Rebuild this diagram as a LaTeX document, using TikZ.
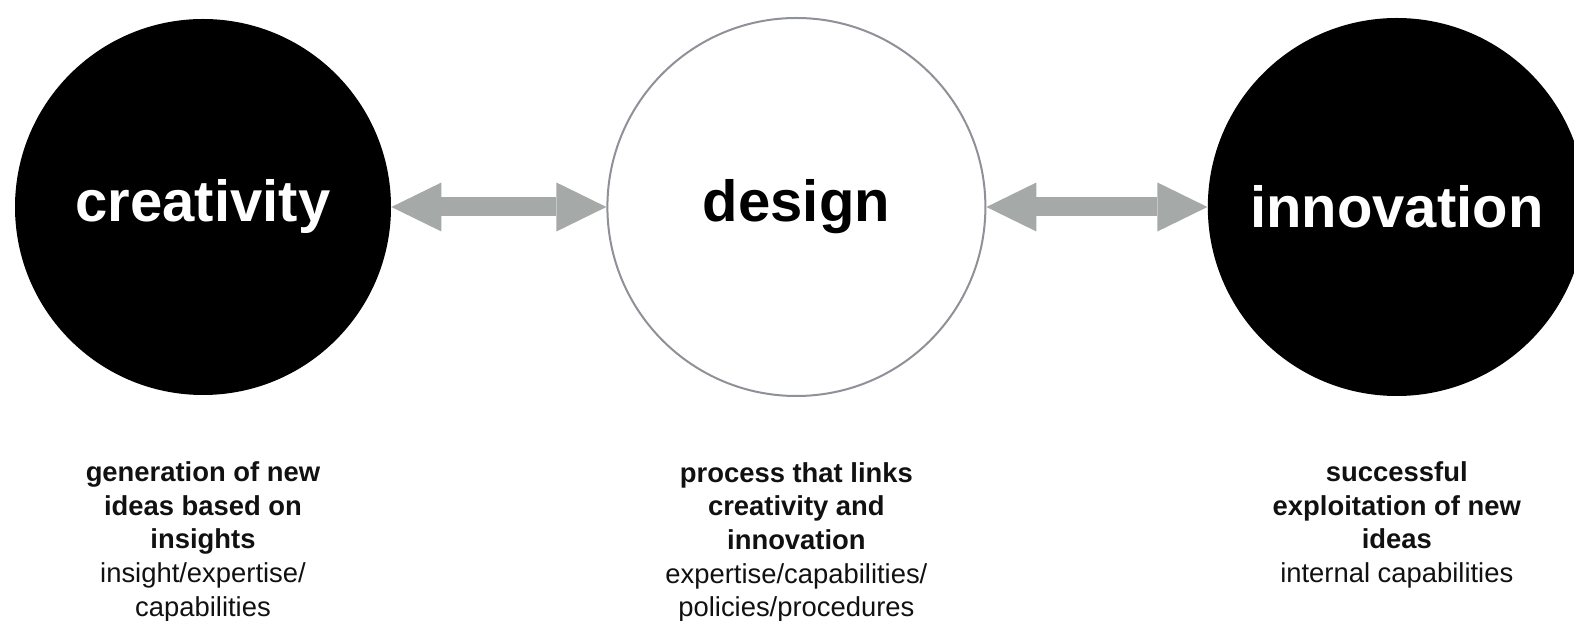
\documentclass[tikz,border=0pt]{standalone}
\usepackage{fontspec}
\setmainfont{Liberation Sans}
\usepackage{tikz}
\usetikzlibrary{positioning, arrows.meta}

\definecolor{arrowgray}{HTML}{A5A9A7}
\definecolor{ringgray}{HTML}{8E9197}
\definecolor{textblack}{HTML}{111111}

\begin{document}
\begin{tikzpicture}[
        bigcirc/.style={draw=none, circle, fill=black, text=white, minimum size=188pt, inner sep=0pt, font=\fontsize{29}{34}\selectfont\bfseries},
        ring/.style={draw=ringgray, circle, fill=white, line width=1pt, minimum size=189pt, inner sep=0pt, font=\fontsize{29}{34}\selectfont\bfseries},
        caption/.style={align=center, inner sep=0pt, text=textblack, font=\fontsize{13.7}{16.8}\selectfont},
        link/.style={draw=arrowgray, line width=9.5pt, {Triangle[length=25pt, width=24.5pt, line width=0pt]}-{Triangle[length=25pt, width=24.5pt, line width=0pt]}},
        node distance=1cm]

        \useasboundingbox (0,0) rectangle (787pt,310.5pt);

        % Circulos
        \node (creativity) [bigcirc] at (101.5pt,207pt) {creativity};
        \node (design) [ring, right=107.5pt of creativity] {design};
        \node (innovation) [bigcirc, minimum size=189pt, right=110.5pt of design] {innovation};

        % Textos
        \node (creatxt) [caption, below=33pt of creativity] {\textbf{generation of new}\\\textbf{ideas based on}\\\textbf{insights}\\insight/expertise/\\capabilities};
        \node (designtxt) [caption, below=32.5pt of design] {\textbf{process that links}\\\textbf{creativity and}\\\textbf{innovation}\\expertise/capabilities/\\policies/procedures};
        \node (innotxt) [caption, below=32.5pt of innovation] {\textbf{successful}\\\textbf{exploitation of new}\\\textbf{ideas}\\internal capabilities};

        % Setas
        \draw[link] (creativity) -- (design);
        \draw[link] (design) -- (innovation);

    \end{tikzpicture}
\end{document}
